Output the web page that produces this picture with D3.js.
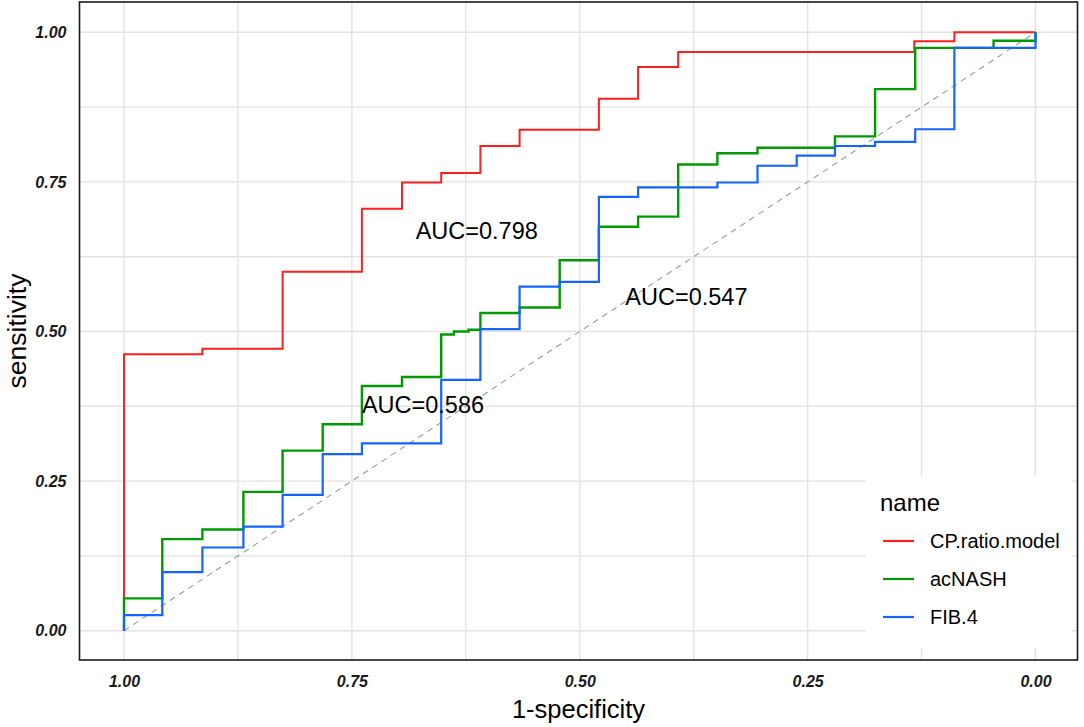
<!DOCTYPE html>
<html>
<head>
<meta charset="utf-8">
<script src="https://cdn.jsdelivr.net/npm/d3@7"></script>
<style>
  body { margin: 0; background: #fff; }
  svg { display: block; font-family: "Liberation Sans", Arial, sans-serif; }
</style>
</head>
<body>
<svg id="chart" width="1084" height="727"></svg>
<script>
// step corners of each ROC curve: specificity where the flat part ends, sensitivity of that flat part
const redSpec  = [1, 0.914, 0.826, 0.739, 0.695, 0.652, 0.609, 0.566, 0.479, 0.436, 0.392, 0.133, 0.089, 0];
const redSens  = [0, 0.462, 0.471, 0.600, 0.705, 0.749, 0.765, 0.810, 0.837, 0.889, 0.942, 0.967, 0.985, 1.0];

const greenSpec = [1, 0.958, 0.914, 0.869, 0.826, 0.782, 0.739, 0.695, 0.652, 0.638, 0.622, 0.609, 0.566, 0.522,
                   0.479, 0.436, 0.392, 0.349, 0.305, 0.220, 0.176, 0.132, 0.046, 0, 0];
const greenSens = [0, 0.054, 0.153, 0.169, 0.232, 0.301, 0.345, 0.409, 0.424, 0.495, 0.500, 0.503, 0.531, 0.540,
                   0.619, 0.675, 0.692, 0.779, 0.798, 0.807, 0.826, 0.905, 0.974, 0.986, 1.0];

const blueSpec = [1, 0.958, 0.914, 0.869, 0.826, 0.782, 0.739, 0.652, 0.609, 0.566, 0.522, 0.479,
                  0.436, 0.349, 0.305, 0.262, 0.220, 0.176, 0.132, 0.089, 0, 0];
const blueSens = [0, 0.026, 0.098, 0.139, 0.174, 0.227, 0.295, 0.313, 0.419, 0.504, 0.575, 0.583,
                  0.725, 0.741, 0.749, 0.777, 0.794, 0.810, 0.817, 0.838, 0.974, 1.0];

const seriesNames = ['CP.ratio.model', 'acNASH', 'FIB.4'];
const seriesColors = ['#ff1f1f', '#009a00', '#1564ff'];

const aucLabels = ['AUC=0.798', 'AUC=0.547', 'AUC=0.586'];
const aucSpec = [0.613, 0.383, 0.672];
const aucSens = [0.654, 0.544, 0.363];

const tickValues = [0, 0.25, 0.5, 0.75, 1];
const gridValues = [0, 0.125, 0.25, 0.375, 0.5, 0.625, 0.75, 0.875, 1];

const svg = d3.select('#chart');
const panel = {left: 79.5, top: 2, right: 1077.5, bottom: 660};

const x = d3.scaleLinear().domain([1, 0]).range([124, 1035.5]);
const y = d3.scaleLinear().domain([0, 1]).range([630.7, 32.3]);

// grid
svg.append('g').selectAll('line')
  .data(gridValues).enter().append('line')
  .attr('x1', d => x(d)).attr('x2', d => x(d))
  .attr('y1', panel.top).attr('y2', panel.bottom)
  .attr('stroke', '#e3e3e3').attr('stroke-width', 1.4);
svg.append('g').selectAll('line')
  .data(gridValues).enter().append('line')
  .attr('y1', d => y(d)).attr('y2', d => y(d))
  .attr('x1', panel.left).attr('x2', panel.right)
  .attr('stroke', '#e3e3e3').attr('stroke-width', 1.4);

// chance line
svg.append('line')
  .attr('x1', x(1)).attr('y1', y(0))
  .attr('x2', x(0)).attr('y2', y(1))
  .attr('stroke', '#9a9a9a').attr('stroke-width', 1.1)
  .attr('stroke-dasharray', '6,5');

// curves
const line = d3.line().x(d => x(d[0])).y(d => y(d[1])).curve(d3.curveStepBefore);
const curves = [
  d3.zip(redSpec, redSens),
  d3.zip(greenSpec, greenSens),
  d3.zip(blueSpec, blueSens)
];
const widths = [2, 2.4, 2.2];
curves.forEach((c, i) => {
  svg.append('path')
    .datum(c)
    .attr('d', line)
    .attr('fill', 'none')
    .attr('stroke', seriesColors[i])
    .attr('stroke-width', widths[i]);
});

// AUC annotations
svg.append('g').selectAll('text')
  .data(aucLabels).enter().append('text')
  .attr('x', (d, i) => x(aucSpec[i]))
  .attr('y', (d, i) => y(aucSens[i]))
  .attr('text-anchor', 'middle')
  .attr('font-size', 23.5)
  .attr('fill', '#000')
  .text(d => d);

// legend
const leg = svg.append('g');
leg.append('rect')
  .attr('x', 866).attr('y', 476).attr('width', 206).attr('height', 172)
  .attr('fill', '#fff');
leg.append('text')
  .attr('x', 880).attr('y', 511)
  .attr('font-size', 24)
  .text('name');
seriesNames.forEach((n, i) => {
  const ly = 541 + i * 38;
  leg.append('line')
    .attr('x1', 883).attr('x2', 914)
    .attr('y1', ly).attr('y2', ly)
    .attr('stroke', seriesColors[i]).attr('stroke-width', 2.2);
  leg.append('text')
    .attr('x', 930).attr('y', ly)
    .attr('dy', '0.36em')
    .attr('font-size', 20)
    .text(n);
});

// panel border
svg.append('rect')
  .attr('x', panel.left).attr('y', panel.top)
  .attr('width', panel.right - panel.left).attr('height', panel.bottom - panel.top)
  .attr('fill', 'none').attr('stroke', '#1a1a1a').attr('stroke-width', 1.6);

// axes
const fmt = d3.format('.2f');
const yAxis = svg.append('g')
  .attr('transform', `translate(${panel.left},0)`)
  .call(d3.axisLeft(y).tickValues(tickValues).tickFormat(fmt).tickSize(0).tickPadding(13));
const xAxis = svg.append('g')
  .attr('transform', `translate(0,${panel.bottom})`)
  .call(d3.axisBottom(x).tickValues(tickValues).tickFormat(fmt).tickSize(0).tickPadding(16));
[xAxis, yAxis].forEach(a => {
  a.select('.domain').remove();
  a.selectAll('text')
    .attr('font-family', '"Liberation Sans", Arial, sans-serif')
    .attr('font-size', 16)
    .attr('font-weight', 'bold')
    .attr('font-style', 'italic')
    .attr('fill', '#1a1a1a');
});

// axis titles
svg.append('text')
  .attr('x', (panel.left + panel.right) / 2).attr('y', 718)
  .attr('text-anchor', 'middle')
  .attr('font-size', 25.5)
  .text('1-specificity');
svg.append('text')
  .attr('transform', `translate(26,${(panel.top + panel.bottom) / 2}) rotate(-90)`)
  .attr('text-anchor', 'middle')
  .attr('font-size', 26.5)
  .text('sensitivity');
</script>
</body>
</html>
